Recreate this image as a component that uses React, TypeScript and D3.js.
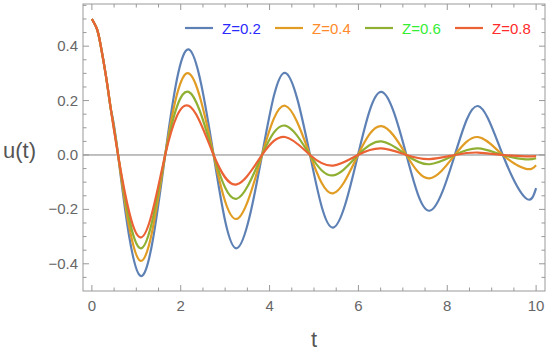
import React from "react";
import * as d3 from "d3";

const tKnots = [0, 0.11, 0.19, 0.32, 0.43, 0.59, 1.09, 1.65, 2.18, 2.74, 3.26, 3.83, 4.35, 4.91, 5.43, 5.99, 6.52, 7.08, 7.6, 8.17, 8.69, 9.25, 9.77, 10];
const uZ02 = [0.5, 0.465, 0.41, 0.287, 0.165, 0, -0.444, 0, 0.388, 0, -0.343, 0, 0.302, 0, -0.267, 0, 0.232, 0, -0.205, 0, 0.18, 0, -0.159, -0.122];
const uZ04 = [0.5, 0.465, 0.41, 0.287, 0.165, 0, -0.389, 0, 0.3, 0, -0.235, 0, 0.181, 0, -0.141, 0, 0.106, 0, -0.086, 0, 0.066, 0, -0.051, -0.038];
const uZ06 = [0.5, 0.465, 0.41, 0.287, 0.165, 0, -0.343, 0, 0.232, 0, -0.161, 0, 0.108, 0, -0.075, 0, 0.05, 0, -0.034, 0, 0.024, 0, -0.016, -0.012];
const uZ08 = [0.5, 0.465, 0.41, 0.287, 0.165, 0, -0.303, 0, 0.181, 0, -0.108, 0, 0.066, 0, -0.039, 0, 0.024, 0, -0.015, 0, 0.009, 0, -0.005, -0.004];

const seriesNames = ["Z=0.2", "Z=0.4", "Z=0.6", "Z=0.8"];
const seriesValues = [uZ02, uZ04, uZ06, uZ08];
const lineColors = ["#5E81B5", "#E19C24", "#8FB032", "#EB6235"];
const legendTextColors = ["#2a2aff", "#ff8a2a", "#33ee33", "#ff2a2a"];

const xMajor = [0, 2, 4, 6, 8, 10];
const yMajor = [-0.4, -0.2, 0, 0.2, 0.4];

export default function App() {
  const W = 550, H = 351;
  const L = 83, R = 545, T = 4, B = 291;
  const x = d3.scaleLinear().domain([-0.2, 10.2]).range([L, R]);
  const y = d3.scaleLinear().domain([-0.5, 0.555]).range([B, T]);

  const xMinor = d3.range(0, 10.01, 0.5).filter((v) => !xMajor.some((m) => Math.abs(m - v) < 1e-6));
  const yMinor = d3.range(-0.45, 0.551, 0.05).filter((v) => !yMajor.some((m) => Math.abs(m - v) < 1e-6));

  const line = d3
    .line<number>()
    .x((_, i) => x(tKnots[i]))
    .y((d) => y(d))
    .curve(d3.curveNatural);

  const frameColor = "#999";
  const labelColor = "#666";
  const font = "'Liberation Sans', Arial, sans-serif";

  const legendX = [185, 275, 365, 455];

  return (
    <svg width={W} height={H} style={{ position: "absolute", left: 0, top: 0, background: "#fff" }}>
      <rect x={0} y={0} width={W} height={H} fill="#fff" />
      {/* zero line */}
      <line x1={L} x2={R} y1={y(0)} y2={y(0)} stroke="#808080" strokeWidth={1} />
      {/* curves */}
      {seriesValues.map((vals, i) => (
        <path key={i} d={line(vals) || ""} fill="none" stroke={lineColors[i]} strokeWidth={2.2} strokeLinejoin="round" />
      ))}
      {/* frame */}
      <rect x={L} y={T} width={R - L} height={B - T} fill="none" stroke={frameColor} strokeWidth={1} />
      {/* x ticks */}
      {xMajor.map((v) => (
        <g key={"xM" + v}>
          <line x1={x(v)} x2={x(v)} y1={B} y2={B - 6} stroke={frameColor} />
          <line x1={x(v)} x2={x(v)} y1={T} y2={T + 6} stroke={frameColor} />
          <text x={x(v)} y={311} textAnchor="middle" fontFamily={font} fontSize={15} fill={labelColor}>
            {v}
          </text>
        </g>
      ))}
      {xMinor.map((v) => (
        <g key={"xm" + v}>
          <line x1={x(v)} x2={x(v)} y1={B} y2={B - 3.5} stroke={frameColor} />
          <line x1={x(v)} x2={x(v)} y1={T} y2={T + 3.5} stroke={frameColor} />
        </g>
      ))}
      {/* y ticks */}
      {yMajor.map((v) => (
        <g key={"yM" + v}>
          <line x1={L} x2={L + 6} y1={y(v)} y2={y(v)} stroke={frameColor} />
          <line x1={R} x2={R - 6} y1={y(v)} y2={y(v)} stroke={frameColor} />
          <text x={78} y={y(v) + 5} textAnchor="end" fontFamily={font} fontSize={15} fill={labelColor}>
            {v === 0 ? "0.0" : (v < 0 ? "\u2212" : "") + Math.abs(v).toFixed(1)}
          </text>
        </g>
      ))}
      {yMinor.map((v) => (
        <g key={"ym" + v}>
          <line x1={L} x2={L + 3.5} y1={y(v)} y2={y(v)} stroke={frameColor} />
          <line x1={R} x2={R - 3.5} y1={y(v)} y2={y(v)} stroke={frameColor} />
        </g>
      ))}
      {/* axis labels */}
      <text x={3} y={158} fontFamily={font} fontSize={22} fill="#555">
        u(t)
      </text>
      <text x={314} y={347} textAnchor="middle" fontFamily={font} fontSize={22} fill="#555">
        t
      </text>
      {/* legend */}
      {seriesNames.map((name, i) => (
        <g key={name}>
          <line x1={legendX[i]} x2={legendX[i] + 28} y1={28} y2={28} stroke={lineColors[i]} strokeWidth={2.2} />
          <text x={legendX[i] + 37} y={33.5} fontFamily={font} fontSize={15} fill={legendTextColors[i]}>
            {name}
          </text>
        </g>
      ))}
    </svg>
  );
}
